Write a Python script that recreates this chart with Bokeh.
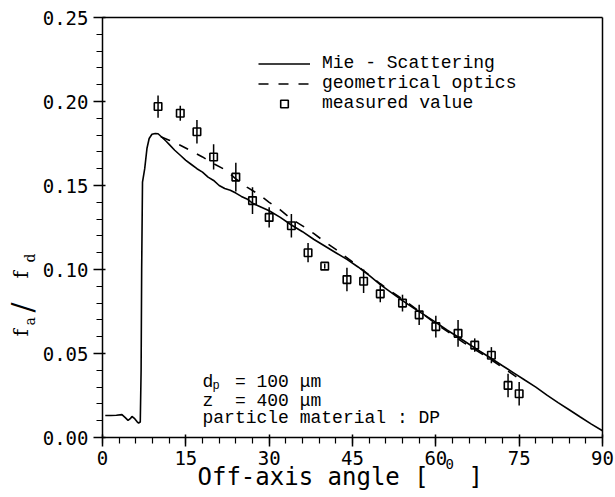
import math
from bokeh.plotting import figure
from bokeh.models import (Range1d, FixedTicker, NumeralTickFormatter, Label,
                          Legend, LegendItem, LinearAxis)
from bokeh.embed import file_html
from bokeh.resources import INLINE

# ---------------- data ----------------
mie_angle = [0.5, 1.5, 2.5, 3.5, 4.1, 4.6, 5.0, 5.3, 5.8, 6.2, 6.5, 6.8, 6.95, 7.05, 7.2,
             7.6, 8.0, 8.4, 8.9, 9.5, 10.0, 10.6, 11.5, 12, 13, 14, 15, 16, 17, 18, 19,
             20, 21, 22, 23, 24, 25, 26, 27, 28, 29, 30, 32, 34, 36, 38, 40, 42, 44, 46,
             48, 50, 52, 54, 56, 58, 60, 62, 64, 66, 68, 70, 72, 74, 76, 78, 80, 82, 84,
             86, 88, 90]
mie_value = [0.0131, 0.0131, 0.0132, 0.0136, 0.0118, 0.0102, 0.0112, 0.0125, 0.0112, 0.0095,
             0.0086, 0.0092, 0.0400, 0.1000, 0.1520,
             0.1600, 0.1720, 0.1780, 0.1805, 0.1810, 0.1808, 0.1790, 0.1762, 0.1745, 0.1710,
             0.1680, 0.1650, 0.1625, 0.1600, 0.1580, 0.1550,
             0.1530, 0.1500, 0.1482, 0.1472, 0.1455, 0.1435, 0.1420, 0.1395, 0.1380, 0.1365,
             0.1350, 0.1310, 0.1265, 0.1225, 0.1180, 0.1140, 0.1100, 0.1060, 0.1015,
             0.0965, 0.0910, 0.0862, 0.0815, 0.0770, 0.0728, 0.0685, 0.0640, 0.0598, 0.0555,
             0.0512, 0.0470, 0.0427, 0.0385, 0.0342, 0.0300, 0.0252, 0.0208, 0.0165,
             0.0122, 0.0080, 0.0040]

geo_angle = [10.5, 12, 14, 16, 18, 20, 22, 24, 26, 28, 30, 32, 34, 36, 38, 40, 42, 45,
             50, 55, 60, 65, 70, 75]
geo_value = [0.1790, 0.1770, 0.1740, 0.1705, 0.1670, 0.1630, 0.1595, 0.1540, 0.1490, 0.1450,
             0.1400, 0.1355, 0.1300, 0.1260, 0.1215, 0.1165, 0.1120, 0.1045,
             0.0915, 0.0800, 0.0678, 0.0565, 0.0462, 0.0350]

meas_angle = [10, 14, 17, 20, 24, 27, 30, 34, 37, 40, 44, 47, 50, 54, 57, 60, 64, 67, 70, 73, 75]
meas_value = [0.197, 0.193, 0.182, 0.167, 0.155, 0.141, 0.131, 0.126, 0.110, 0.102, 0.094,
              0.093, 0.0855, 0.080, 0.073, 0.066, 0.062, 0.055, 0.049, 0.031, 0.026]
meas_error = [0.0066, 0.0045, 0.0070, 0.0075, 0.0085, 0.0080, 0.0060, 0.0070, 0.0057, 0.0015,
              0.0070, 0.0070, 0.0050, 0.0050, 0.0060, 0.0065, 0.0080, 0.0040, 0.0048, 0.0070,
              0.0070]

x_ticks = [0, 15, 30, 45, 60, 75, 90]
y_ticks = [0.00, 0.05, 0.10, 0.15, 0.20, 0.25]
x_minor = [i * 3 for i in range(31)]
y_minor = [i * 0.01 for i in range(26)]

legend_labels = ["Mie - Scattering", "geometrical optics", "measured value"]
NB = "\u00a0"
note_lines = ["d" + NB * 2 + "=" + NB + "100" + NB + "\u03bcm",
              "z" + NB * 2 + "=" + NB + "400" + NB + "\u03bcm",
              "particle material : DP"]

# ---------------- layout: the frame fills the whole canvas ----------------
W, H = 615, 497
PX_L, PX_R, PY_T, PY_B = 102, 602, 17, 437   # where the axes box sits (page px)


def dx(px):
    return (px - PX_L) / (PX_R - PX_L) * 90


def dy(py):
    return (PY_B - py) / (PY_B - PY_T) * 0.25


p = figure(width=W, height=H, output_backend="svg", toolbar_location=None,
           x_range=Range1d(dx(0), dx(W)), y_range=Range1d(dy(H), dy(0)),
           x_axis_type=None, y_axis_type=None,
           min_border_left=0, min_border_right=0, min_border_top=0, min_border_bottom=0)
p.background_fill_color = "white"
p.border_fill_color = "white"
p.outline_line_color = None
p.xgrid.visible = False
p.ygrid.visible = False

MONO = "DejaVu Sans Mono"
SERIF_MONO = "Liberation Mono"


def style_axis(ax):
    ax.axis_line_color = "black"
    ax.axis_line_width = 1.5
    ax.major_tick_line_color = "black"
    ax.major_tick_line_width = 1.5
    ax.minor_tick_line_color = "black"
    ax.minor_tick_line_width = 1.2
    ax.major_tick_out = 9
    ax.major_tick_in = 3
    ax.minor_tick_out = 6
    ax.minor_tick_in = 0
    ax.major_label_text_font = MONO
    ax.major_label_text_font_size = "19px"
    ax.major_label_text_color = "black"


xax = LinearAxis(fixed_location=0, bounds=(0, 90),
                 ticker=FixedTicker(ticks=x_ticks, minor_ticks=x_minor),
                 formatter=NumeralTickFormatter(format="0"), major_label_standoff=4)
style_axis(xax)
p.add_layout(xax, "below")

yax = LinearAxis(fixed_location=0, bounds=(0, 0.25),
                 ticker=FixedTicker(ticks=y_ticks, minor_ticks=y_minor),
                 formatter=NumeralTickFormatter(format="0.00"), major_label_standoff=5)
style_axis(yax)
p.add_layout(yax, "left")

# box lines at top and right (axes without ticks)
tax = LinearAxis(fixed_location=0.25, bounds=(0, 90), ticker=FixedTicker(ticks=[]),
                 axis_line_color="black", axis_line_width=1.5,
                 major_label_text_font_size="0px")
p.add_layout(tax, "above")
rax = LinearAxis(fixed_location=90, bounds=(0, 0.25), ticker=FixedTicker(ticks=[]),
                 axis_line_color="black", axis_line_width=1.5,
                 major_label_text_font_size="0px")
p.add_layout(rax, "right")

# ---------------- data marks ----------------
mie = p.line(mie_angle, mie_value, line_color="black", line_width=1.6)
geo = p.line(geo_angle, geo_value, line_color="black", line_width=1.6, line_dash="10 10")
lo = [v - e for v, e in zip(meas_value, meas_error)]
hi = [v + e for v, e in zip(meas_value, meas_error)]
p.segment(x0=meas_angle, y0=lo, x1=meas_angle, y1=hi, line_color="black", line_width=1.5)
meas = p.scatter(meas_angle, meas_value, marker="square", size=7.5, fill_color=None,
                 line_color="black", line_width=1.6)

legend = Legend(items=[LegendItem(label=legend_labels[0], renderers=[mie]),
                       LegendItem(label=legend_labels[1], renderers=[geo]),
                       LegendItem(label=legend_labels[2], renderers=[meas])],
                location=(258, 384), glyph_width=52, glyph_height=19, label_height=19,
                label_standoff=12, spacing=0, padding=0, margin=0,
                border_line_alpha=0, background_fill_alpha=0,
                label_text_font=SERIF_MONO, label_text_font_size="18px",
                label_text_color="black")
p.add_layout(legend)


def lab(text, px, py, size, font, angle=0.0, align="left", baseline="alphabetic"):
    p.add_layout(Label(x=dx(px), y=dy(py), text=text, angle=angle,
                       text_font=font, text_font_size=size, text_color="black",
                       text_align=align, text_baseline=baseline))


# note block
lab(note_lines[0], 202, 381, "18px", SERIF_MONO)
lab("p", 212, 385, "12px", SERIF_MONO)
lab(note_lines[1], 202, 400, "18px", SERIF_MONO)
lab(note_lines[2], 202, 417, "18px", SERIF_MONO)

# x axis title
lab("Off-axis angle [", 197, 476, "24px", MONO)
lab("0", 445, 463, "14px", MONO)
lab("]", 468, 476, "24px", MONO)

# y axis title  f_a / f_d  (rotated)
R = math.pi / 2
lab("f", 20, 336, "20px", "DejaVu Serif", angle=R)
lab("a", 29, 325, "14px", "DejaVu Serif", angle=R)
lab("/", 22, 312, "30px", "DejaVu Serif", angle=R)
lab("f", 20, 278, "20px", "DejaVu Serif", angle=R)
lab("d", 29, 262, "14px", "DejaVu Serif", angle=R)

open("out.html", "w").write(file_html(p, INLINE))
